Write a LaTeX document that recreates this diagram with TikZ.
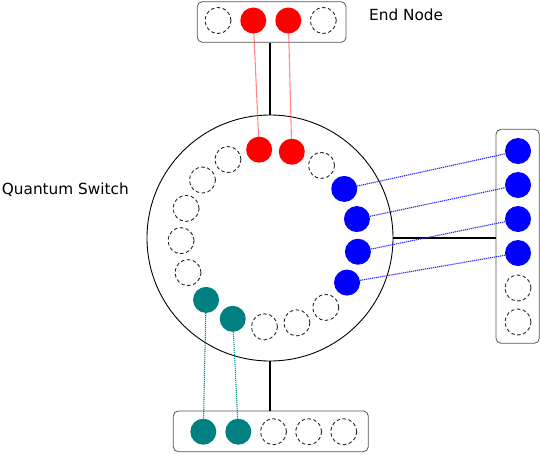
\documentclass[tikz,border=0pt]{standalone}
\usepackage{fontspec}
\setmainfont{DejaVu Sans}
\definecolor{qred}{HTML}{FF0000}
\definecolor{qblue}{HTML}{0000FF}
\definecolor{qteal}{HTML}{008080}
\definecolor{boxgray}{HTML}{555555}
\begin{document}
\begin{tikzpicture}[x=1pt,y=-1pt,
  slot/.style={circle,minimum size=26pt,inner sep=0pt,outer sep=0pt},
  emptyslot/.style={slot,draw=black!85,dashed,dash pattern=on 3.5pt off 2.5pt,line width=0.9pt},
  redslot/.style={slot,fill=qred},
  blueslot/.style={slot,fill=qblue},
  tealslot/.style={slot,fill=qteal},
  nodebox/.style={draw=boxgray,rounded corners=5pt,line width=0.8pt,inner sep=0pt},
  link/.style={line width=1.8pt,black},
  redlink/.style={draw=qred!70,line width=1.1pt,dash pattern=on 1.2pt off 0.8pt},
  bluelink/.style={draw=qblue!85,line width=1.1pt,dash pattern=on 1.2pt off 0.8pt},
  teallink/.style={draw=qteal!90,line width=1.1pt,dash pattern=on 1.2pt off 0.8pt},
  lbl/.style={font=\fontsize{15.3pt}{17pt}\selectfont,inner sep=0pt}]
\useasboundingbox (0,0) rectangle (540,453);

% boxes
\node[nodebox,minimum width=148.7pt,minimum height=40.6pt] (topbox) at (271.65,22) {};
\node[nodebox,minimum width=43.3pt,minimum height=214pt] (rightbox) at (517.65,236.3) {};
\node[nodebox,minimum width=195pt,minimum height=40.7pt] (botbox) at (270.8,431.35) {};

% switch
\node[circle,draw=black,line width=0.9pt,minimum size=246pt,inner sep=0pt] (sw) at (270,238) {};

% ring slots
\foreach \k/\st in {0/redslot,1/redslot,2/emptyslot,3/blueslot,4/blueslot,5/blueslot,6/blueslot,
  7/emptyslot,8/emptyslot,9/emptyslot,10/tealslot,11/tealslot,12/emptyslot,13/emptyslot,
  14/emptyslot,15/emptyslot,16/emptyslot}{
  \pgfmathsetmacro{\ang}{97-21.176*\k}
  \node[\st] (r\k) at ({270+89*cos(\ang)},{238-89*sin(\ang)}) {};
}

% top end node slots
\node[emptyslot] (t1) at (218,20.5) {};
\node[redslot] (t2) at (253.3,20.5) {};
\node[redslot] (t3) at (288.3,20.5) {};
\node[emptyslot] (t4) at (323.3,20.5) {};

% right end node slots
\node[blueslot] (b1) at (518,151) {};
\node[blueslot] (b2) at (518,185) {};
\node[blueslot] (b3) at (518,219) {};
\node[blueslot] (b4) at (518,253) {};
\node[emptyslot] (b5) at (518,288) {};
\node[emptyslot] (b6) at (518,322) {};

% bottom end node slots
\node[tealslot] (d1) at (203.3,431.7) {};
\node[tealslot] (d2) at (238.3,431.7) {};
\node[emptyslot] (d3) at (273.5,431.7) {};
\node[emptyslot] (d4) at (308.6,431.7) {};
\node[emptyslot] (d5) at (343.7,431.7) {};

% physical links
\draw[link] (sw.north) -- (sw.north |- topbox.south);
\draw[link] (sw.east) -- (sw.east -| rightbox.west);
\draw[link] (sw.south) -- (sw.south |- botbox.north);

% entanglement links
\draw[redlink] (t2) -- (r0);
\draw[redlink] (t3) -- (r1);
\draw[bluelink] (r3) -- (b1);
\draw[bluelink] (r4) -- (b2);
\draw[bluelink] (r5) -- (b3);
\draw[bluelink] (r6) -- (b4);
\draw[teallink] (r11) -- (d1);
\draw[teallink] (r10) -- (d2);

% labels
\node[lbl,anchor=base west] (endlbl) at (369,20.7) {End Node};
\node[lbl,anchor=base west] (swlbl) at (1.7,194) {Quantum Switch};
\end{tikzpicture}
\end{document}
